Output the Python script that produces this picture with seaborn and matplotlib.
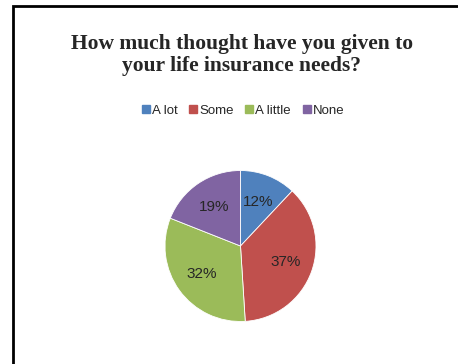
import matplotlib
matplotlib.use('Agg')
import matplotlib.pyplot as plt
import seaborn as sns
from matplotlib.lines import Line2D
from matplotlib.patches import Rectangle

categories = ['A lot', 'Some', 'A little', 'None']
shares = [12, 37, 32, 19]
colors = ['#4F81BD', '#C0504D', '#9BBB59', '#8064A2']

sns.set_theme(style='white')
plt.rcParams['font.family'] = ['Liberation Sans', 'DejaVu Sans']

W, H = 458, 364
fig = plt.figure(figsize=(W / 100, H / 100), dpi=100)

# pie axes: centre ~ (240.5, 246) px, radius ~75.5 px
cx, cy, r = 240.5, 246, 75.5
ax = fig.add_axes([(cx - r) / W, (H - cy - r) / H, 2 * r / W, 2 * r / H])
wedges, texts, autotexts = ax.pie(
    shares, colors=colors, startangle=90, counterclock=False,
    autopct='%1.0f%%', pctdistance=0.63, radius=1,
    wedgeprops=dict(edgecolor='white', linewidth=0.6),
    textprops=dict(fontsize=11, color='#262626'))
ax.set_xlim(-1, 1)
ax.set_ylim(-1, 1)
ax.set_aspect('equal')
ax.axis('off')

fig.text(242 / W, 1 - 55 / H,
         'How much thought have you given to\nyour life insurance needs?',
         ha='center', va='center', fontsize=15.5, fontweight='bold',
         family='Liberation Serif', color='#262626', linespacing=1.15)

handles = [Line2D([], [], marker='s', linestyle='none', markersize=5.5,
                  markerfacecolor=c, markeredgecolor=c) for c in colors]
fig.legend(handles, categories, loc='center', bbox_to_anchor=(243 / W, 1 - 111 / H),
           ncol=4, frameon=False, fontsize=9.5, handlelength=0.6,
           handletextpad=0.15, columnspacing=0.9, borderpad=0)

fig.patches.append(Rectangle((13 / W, -0.1), 1.2, 1.1 - 6 / H,
                             transform=fig.transFigure, fill=False,
                             edgecolor='black', linewidth=2))

fig.savefig('out.png', dpi=100)
